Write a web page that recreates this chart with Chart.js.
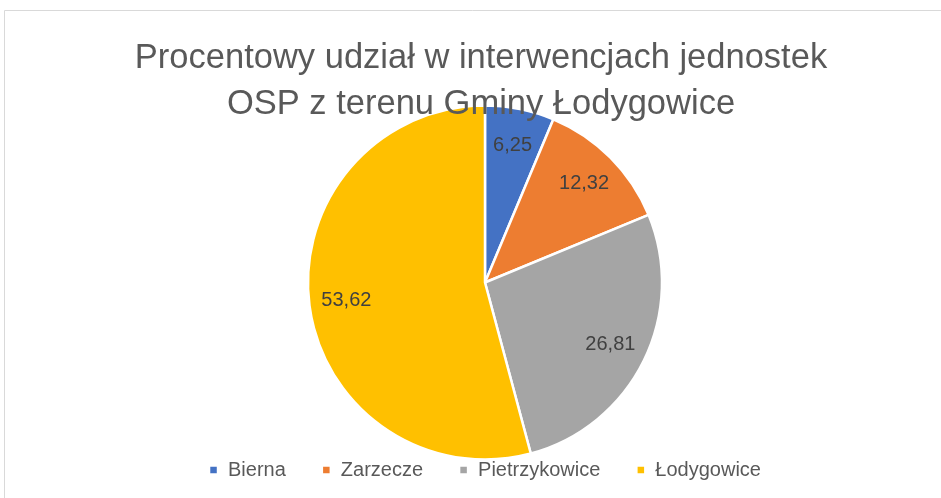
<!DOCTYPE html>
<html><head><meta charset="utf-8">
<script src="https://cdn.jsdelivr.net/npm/chart.js@4/dist/chart.umd.min.js"></script>
<style>html,body{margin:0;padding:0;background:#fff;}#wrap{position:relative;width:941px;height:498px;}</style>
</head><body><div id="wrap"><canvas id="c" width="941" height="498"></canvas></div>
<script>
const titleLines = ["Procentowy udział w interwencjach jednostek", "OSP z terenu Gminy Łodygowice"];
const categories = ["Bierna", "Zarzecze", "Pietrzykowice", "Łodygowice"];
const values = [6.25, 12.32, 26.81, 53.62];
const colors = ["#4472C4", "#ED7D31", "#A5A5A5", "#FFC000"];
const FONT = "'Liberation Sans', Arial, sans-serif";

const framePlugin = {
  id: 'frame',
  beforeDraw(chart) {
    const ctx = chart.ctx;
    ctx.save();
    ctx.strokeStyle = '#d9d9d9';
    ctx.lineWidth = 1;
    ctx.beginPath();
    ctx.moveTo(4.5, 498); ctx.lineTo(4.5, 10.5); ctx.lineTo(941, 10.5);
    ctx.stroke();
    ctx.restore();
  }
};
const labelPlugin = {
  id: 'arcLabels',
  afterDatasetsDraw(chart) {
    const ctx = chart.ctx;
    const meta = chart.getDatasetMeta(0);
    ctx.save();
    ctx.font = "20px " + FONT;
    ctx.fillStyle = '#404040';
    ctx.textAlign = 'center';
    ctx.textBaseline = 'middle';
    meta.data.forEach((arc, i) => {
      const mid = (arc.startAngle + arc.endAngle) / 2;
      const r = arc.outerRadius * 0.79;
      ctx.fillText(values[i].toFixed(2).replace('.', ','), arc.x + Math.cos(mid) * r, arc.y + Math.sin(mid) * r);
    });
    ctx.restore();
  }
};
const titlePlugin = {
  id: 'overTitle',
  afterDraw(chart) {
    const ctx = chart.ctx;
    ctx.save();
    ctx.font = "34.5px " + FONT;
    ctx.fillStyle = '#595959';
    ctx.textAlign = 'center';
    ctx.textBaseline = 'middle';
    ctx.fillText(titleLines[0], 481, 58);
    ctx.fillText(titleLines[1], 481, 104);
    ctx.restore();
  }
};

new Chart(document.getElementById('c'), {
  type: 'pie',
  data: {
    labels: categories,
    datasets: [{
      data: values,
      backgroundColor: colors,
      borderColor: '#ffffff',
      borderWidth: 2.5,
      radius: 177,
      clip: false
    }]
  },
  options: {
    responsive: false,
    animation: false,
    layout: { padding: { top: 141, bottom: 8, left: 29, right: 0 } },
    plugins: {
      title: { display: false },
      tooltip: { enabled: false },
      legend: {
        position: 'bottom',
        labels: {
          boxWidth: 9, boxHeight: 9, padding: 36,
          color: '#595959',
          font: { size: 20, family: FONT }
        }
      }
    }
  },
  plugins: [framePlugin, labelPlugin, titlePlugin]
});
</script></body></html>
